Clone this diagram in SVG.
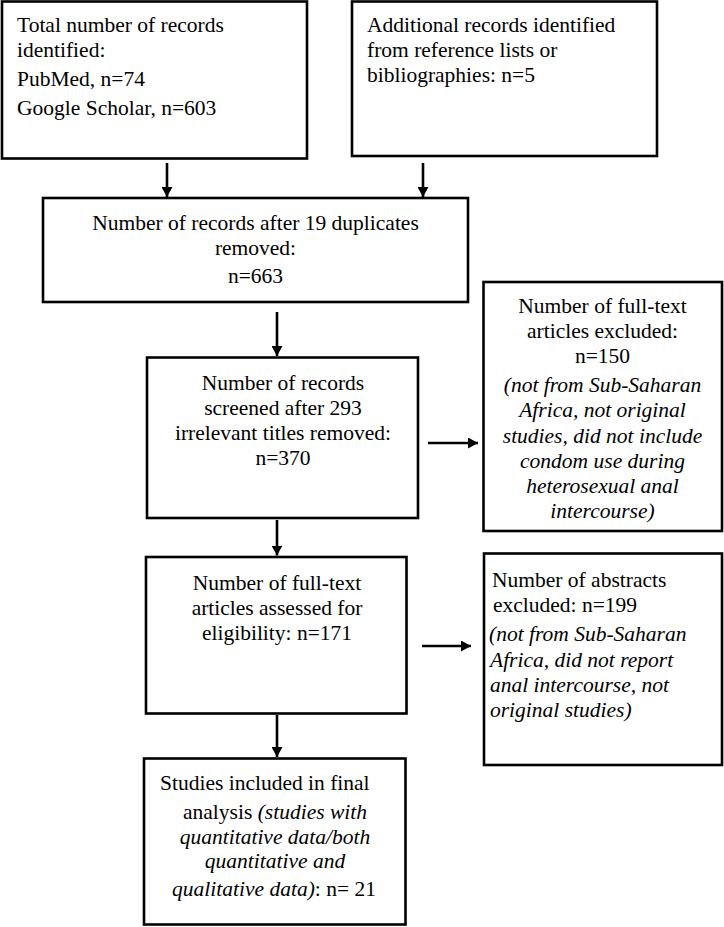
<svg xmlns="http://www.w3.org/2000/svg" width="724" height="927" viewBox="0 0 724 927">
<style>
  .box { fill: #ffffff; stroke: #000000; stroke-width: 2.6; }
  .t { font-family: "Liberation Serif", "Times New Roman", serif; font-size: 21.5px; fill: #000000; }
  .c { text-anchor: middle; }
  .i { font-style: italic; }
  .con { stroke: #000000; stroke-width: 2.6; fill: none; marker-end: url(#arr); }
</style>
<defs>
  <marker id="arr" markerUnits="userSpaceOnUse" markerWidth="11" markerHeight="11" refX="10" refY="5.5" orient="auto">
    <path d="M0,0 L10,5.5 L0,11 z" fill="#000000"/>
  </marker>
</defs>
<rect width="724" height="927" fill="#ffffff"/>

<g id="n1">
  <rect class="box" x="2" y="1.5" width="305" height="157"/>
  <text class="t" x="17" y="32">Total number of records</text>
  <text class="t" x="17" y="57">identified:</text>
  <text class="t" x="17" y="86">PubMed, n=74</text>
  <text class="t" x="17" y="115">Google Scholar, n=603</text>
</g>

<g id="n2">
  <rect class="box" x="352" y="1.5" width="305" height="154.5"/>
  <text class="t" x="367" y="32">Additional records identified</text>
  <text class="t" x="367" y="57">from reference lists or</text>
  <text class="t" x="367" y="82">bibliographies: n=5</text>
</g>

<g id="n3">
  <rect class="box" x="43" y="198" width="425" height="104"/>
  <text class="t c" x="255.5" y="230">Number of records after 19 duplicates</text>
  <text class="t c" x="255.5" y="255">removed:</text>
  <text class="t c" x="255.5" y="283">n=663</text>
</g>

<g id="n4">
  <rect class="box" x="147" y="357.5" width="271" height="160.5"/>
  <text class="t c" x="283" y="390">Number of records</text>
  <text class="t c" x="283" y="415">screened after 293</text>
  <text class="t c" x="283" y="440">irrelevant titles removed:</text>
  <text class="t c" x="283" y="465">n=370</text>
</g>

<g id="n5">
  <rect class="box" x="483.5" y="282" width="238.5" height="249"/>
  <text class="t c" x="602.5" y="313">Number of full-text</text>
  <text class="t c" x="602.5" y="338">articles excluded:</text>
  <text class="t c" x="602.5" y="363">n=150</text>
  <text class="t c i" x="602.5" y="392">(not from Sub-Saharan</text>
  <text class="t c i" x="602.5" y="417">Africa, not original</text>
  <text class="t c i" x="602.5" y="443">studies, did not include</text>
  <text class="t c i" x="602.5" y="468">condom use during</text>
  <text class="t c i" x="602.5" y="493">heterosexual anal</text>
  <text class="t c i" x="602.5" y="518">intercourse)</text>
</g>

<g id="n6">
  <rect class="box" x="146" y="557" width="260.5" height="156.5"/>
  <text class="t c" x="277" y="590">Number of full-text</text>
  <text class="t c" x="277" y="615">articles assessed for</text>
  <text class="t c" x="277" y="640">eligibility: n=171</text>
</g>

<g id="n7">
  <rect class="box" x="484" y="553.5" width="238" height="211.5"/>
  <text class="t" x="492" y="587">Number of abstracts</text>
  <text class="t" x="493" y="612">excluded: n=199</text>
  <text class="t i" x="489" y="641">(not from Sub-Saharan</text>
  <text class="t i" x="490" y="667">Africa, did not report</text>
  <text class="t i" x="490" y="692">anal intercourse, not</text>
  <text class="t i" x="490" y="717">original studies)</text>
</g>

<g id="n8">
  <rect class="box" x="144" y="758.5" width="261.5" height="166"/>
  <text class="t" x="160" y="790">Studies included in final</text>
  <text class="t c" x="275" y="819">analysis <tspan class="i">(studies with</tspan></text>
  <text class="t c i" x="275" y="844">quantitative data/both</text>
  <text class="t c i" x="275" y="868">quantitative and</text>
  <text class="t c" x="274" y="896"><tspan class="i">qualitative data)</tspan>: n= 21</text>
</g>

<g id="connectors">
  <line class="con" x1="167" y1="163" x2="167" y2="197"/>
  <line class="con" x1="423" y1="163" x2="423" y2="197"/>
  <line class="con" x1="277" y1="312" x2="277" y2="356"/>
  <line class="con" x1="428" y1="443" x2="478" y2="443"/>
  <line class="con" x1="277" y1="520" x2="277" y2="555.5"/>
  <line class="con" x1="422" y1="646" x2="471" y2="646"/>
  <line class="con" x1="277" y1="715" x2="277" y2="757"/>
</g>
</svg>
